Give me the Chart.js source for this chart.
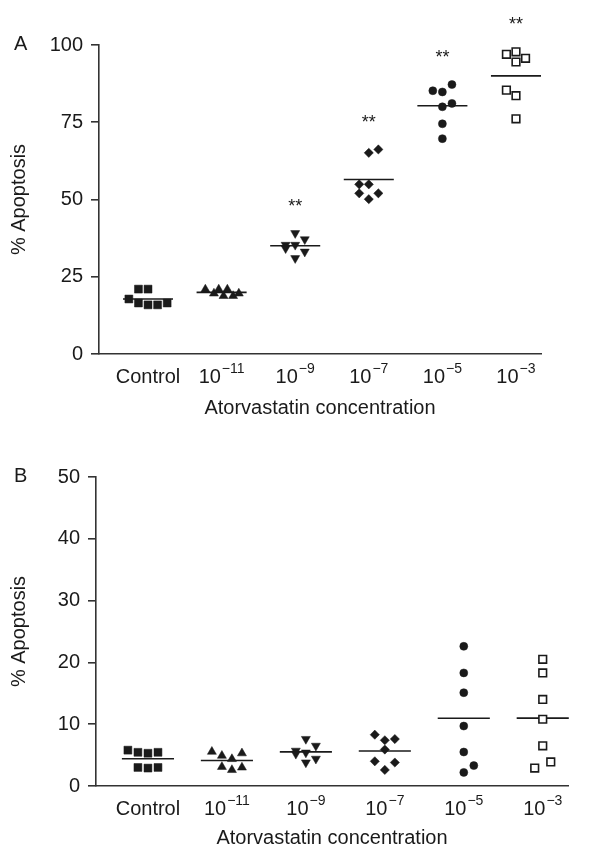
<!DOCTYPE html>
<html>
<head>
<meta charset="utf-8">
<script src="https://cdn.jsdelivr.net/npm/chart.js@4.4.1/dist/chart.umd.min.js"></script>
<style>
  html, body { margin: 0; padding: 0; background: #fff; }
  canvas { display: block; }
</style>
</head>
<body>
<canvas id="panelA" width="593" height="430"></canvas>
<canvas id="panelB" width="593" height="423"></canvas>
<script>
// tick labels on the x axis: base + superscript exponent
const categoryBase = ["Control", "10", "10", "10", "10", "10"]
const categoryExp = ["", "\u221211", "\u22129", "\u22127", "\u22125", "\u22123"]

// panel A, % apoptosis per concentration
const aControl = [21, 21, 17.8, 16.5, 15.9, 15.9, 16.5]
const aM11 = [20.9, 19.6, 20.9, 18.8, 20.9, 18.8, 19.6]
const aM9 = [39.1, 37.1, 35.3, 35.3, 34.2, 33.1, 31.0]
const aM7 = [65.1, 66.2, 54.9, 54.9, 52.0, 52.0, 50.1]
const aM5 = [85.2, 84.8, 87.2, 80.0, 81.1, 74.5, 69.7]
const aM3 = [97.0, 97.8, 94.5, 95.7, 85.4, 83.6, 76.1]
const sigA = ["", "", "**", "**", "**", "**"]

// panel B
const bControl = [5.8, 5.45, 5.3, 5.45, 3.0, 2.9, 3.0]
const bM11 = [5.55, 4.9, 4.37, 5.3, 3.1, 2.6, 3.0]
const bM9 = [7.6, 6.5, 5.7, 5.4, 5.2, 4.4, 3.8]
const bM7 = [8.3, 7.4, 7.6, 5.9, 4.0, 3.8, 2.6]
const bM5 = [22.6, 18.3, 15.1, 9.7, 5.5, 3.3, 2.2]
const bM3 = [20.5, 18.3, 14.0, 10.8, 6.5, 3.9, 2.9]
const sigB = ["", "", "", "", "", ""]

const yTicksA = [0, 25, 50, 75, 100]
const yTicksB = [0, 10, 20, 30, 40, 50]

// layout only: horizontal scatter slots of the points inside each column
const slotsA = [
  [-1, 0, -2, -1, 0, 1, 2],
  [-1.7, -0.8, -0.3, 0.2, 0.6, 1.2, 1.8],
  [0, 1, -1, 0, -1, 1, 0],
  [0, 1, -1, 0, -1, 1, 0],
  [-1, 0, 1, 0, 1, 0, 0],
  [-1, 0, 0, 1, -1, 0, 0]
]
const slotsB = [
  [-2, -1, 0, 1, -1, 0, 1],
  [-1.5, -0.5, 0.5, 1.5, -0.5, 0.5, 1.5],
  [0, 1, -1, 0, -1, 1, 0],
  [-1, 0, 1, 0, -1, 1, 0],
  [0, 0, 0, 0, 0, 1, 0],
  [0, 0, 0, 0, 0, 0.8, -0.8]
]

const FONT = '"Liberation Sans", Arial, Helvetica, sans-serif'
const INK = "#1a1a1a"
const AXIS = "#333"

const markers = [
  { pointStyle: "rect", radius: 5.6, fill: INK, rotation: 0 },
  { pointStyle: "triangle", radius: 5.2, fill: INK, rotation: 0 },
  { pointStyle: "triangle", radius: 5.2, fill: INK, rotation: 180 },
  { pointStyle: "rectRot", radius: 4.6, fill: INK, rotation: 0 },
  { pointStyle: "circle", radius: 4, fill: INK, rotation: 0 },
  { pointStyle: "rect", radius: 5.4, fill: "#fff", rotation: 0 }
]

const mean = (arr) => arr.reduce((s, v) => s + v, 0) / arr.length

const decor = {
  id: "decor",
  afterDraw(chart, args, opts) {
    const ctx = chart.ctx
    const xs = chart.scales.x
    const ys = chart.scales.y
    ctx.save()
    ctx.fillStyle = INK
    ctx.textBaseline = "middle"
    ctx.textAlign = "left"

    categoryBase.forEach((base, i) => {
      const cx = xs.getPixelForValue(i + 1)
      const ty = xs.top + 23
      const exp = categoryExp[i]
      ctx.font = `20px ${FONT}`
      const wb = ctx.measureText(base).width
      ctx.font = `14px ${FONT}`
      const we = exp ? ctx.measureText(exp).width + 1 : 0
      const left = cx - (wb + we) / 2
      ctx.font = `20px ${FONT}`
      ctx.fillText(base, left, ty)
      if (exp) {
        ctx.font = `14px ${FONT}`
        ctx.fillText(exp, left + wb + 1, ty - 8)
      }
    })

    ctx.textAlign = "center"
    ctx.textBaseline = "alphabetic"
    ctx.font = `18px ${FONT}`
    opts.sig.forEach((s, i) => {
      if (!s) return
      const top = Math.max(...opts.groups[i])
      ctx.fillText(s, xs.getPixelForValue(i + 1), ys.getPixelForValue(top + 10.2) + 10)
    })

    ctx.textAlign = "left"
    ctx.textBaseline = "middle"
    ctx.font = `20px ${FONT}`
    ctx.fillText(opts.letter, 14, ys.getPixelForValue(ys.max) - 1)
    ctx.restore()
  }
}

function makePanel(id, groups, slots, sig, letter, yTicks, frame) {
  const datasets = []
  groups.forEach((values, i) => {
    const m = markers[i]
    datasets.push({
      data: values.map((v, k) => ({ x: i + 1 + slots[i][k] * frame.slot, y: v })),
      pointStyle: m.pointStyle,
      pointRadius: m.radius,
      pointRotation: m.rotation,
      pointBackgroundColor: m.fill,
      pointBorderColor: INK,
      pointBorderWidth: m.fill === INK ? 0.5 : 1.6,
      showLine: false,
      clip: false,
      order: 0
    })
    const avg = mean(values)
    datasets.push({
      data: [{ x: i + 1 - frame.half, y: avg }, { x: i + 1 + frame.half, y: avg }],
      showLine: true,
      borderColor: INK,
      borderWidth: 1.6,
      pointRadius: 0,
      clip: false,
      order: 1
    })
  })

  return new Chart(document.getElementById(id), {
    type: "scatter",
    data: { datasets },
    options: {
      responsive: false,
      animation: false,
      events: [],
      layout: { padding: frame.padding },
      plugins: {
        legend: { display: false },
        tooltip: { enabled: false },
        decor: { sig, groups, letter }
      },
      scales: {
        x: {
          type: "linear",
          min: frame.xMin,
          max: frame.xMax,
          grid: { display: false },
          border: { display: true, color: AXIS, width: 1.6 },
          ticks: { display: false },
          title: {
            display: true,
            text: "Atorvastatin concentration",
            color: INK,
            font: { family: FONT, size: 20 },
            padding: 0
          },
          afterFit: (scale) => { scale.height = frame.xHeight }
        },
        y: {
          min: yTicks[0],
          max: yTicks[yTicks.length - 1],
          afterBuildTicks: (scale) => { scale.ticks = yTicks.map(v => ({ value: v })) },
          grid: { display: true, drawOnChartArea: false, drawTicks: true, tickLength: 8, color: AXIS, lineWidth: 1.6 },
          border: { display: true, color: AXIS, width: 1.6 },
          ticks: { color: INK, font: { family: FONT, size: 20 }, padding: 8 },
          title: {
            display: true,
            text: "% Apoptosis",
            color: INK,
            font: { family: FONT, size: 20 },
            padding: { top: 7, bottom: 0 }
          },
          afterFit: (scale) => { scale.width = frame.yWidth }
        }
      }
    },
    plugins: [decor]
  })
}

makePanel("panelA", [aControl, aM11, aM9, aM7, aM5, aM3], slotsA, sigA, "A", yTicksA, {
  padding: { top: 45, right: 52, bottom: 10, left: 0 },
  yWidth: 99, xHeight: 66,
  xMin: 0.334, xMax: 6.34, slot: 0.13, half: 0.34
})

makePanel("panelB", [bControl, bM11, bM9, bM7, bM5, bM3], slotsB, sigB, "B", yTicksB, {
  padding: { top: 47, right: 25, bottom: 3, left: 0 },
  yWidth: 96, xHeight: 64,
  xMin: 0.342, xMax: 6.32, slot: 0.127, half: 0.33
})
</script>
</body>
</html>
